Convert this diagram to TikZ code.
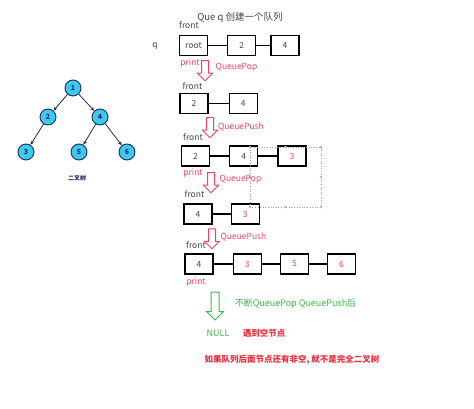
\documentclass[tikz,border=0pt]{standalone}
\usepackage{fontspec}
\setmainfont{Noto Sans CJK SC}
\usepackage{tikz}
\usetikzlibrary{positioning,arrows.meta,shapes.arrows}
\definecolor{pinkred}{HTML}{E8475F}
\definecolor{warnred}{HTML}{E5303C}
\definecolor{leafgreen}{HTML}{3DB54A}
\definecolor{navy}{HTML}{1C2D5A}
\definecolor{skyfill}{HTML}{3CC8F0}
\definecolor{inkgrey}{HTML}{444444}
\definecolor{dotgrey}{HTML}{9A9A9A}
\tikzset{
  qbox/.style={rectangle, draw=black, line width=1.2pt, minimum width=28pt,
               minimum height=20pt, inner sep=0pt, font=\fontsize{8.5}{9}\selectfont,
               text=#1},
  qbox/.default=inkgrey,
  link/.style={draw=black, line width=1.1pt},
  tnode/.style={circle, draw=navy, fill=skyfill, line width=0.9pt,
                minimum size=16pt, inner sep=0pt,
                font=\fontsize{7}{7}\selectfont\bfseries, text=navy},
  tedge/.style={-{Stealth[length=4pt,width=3.5pt]}, line width=0.8pt, draw=navy},
  downar/.style={single arrow, shape border rotate=270, draw=#1, line width=1pt,
                 inner sep=3pt, single arrow head extend=4pt,
                 minimum height=20pt},
  tag/.style={font=\fontsize{8.5}{9}\selectfont, text=#1, inner sep=0pt},
  tag/.default=inkgrey,
  grip/.style={circle, draw=dotgrey, fill=white, line width=0.4pt,
               inner sep=0pt, minimum size=2.4pt},
}

\begin{document}
\begin{tikzpicture}[x=1pt, y=-1pt]
  \useasboundingbox (0,0) rectangle (474,409);

  % tree
  \node[tnode] (t1) at (73,88) {1};
  \node[tnode] (t2) at (48,117) {2};
  \node[tnode] (t4) at (100,117) {4};
  \node[tnode] (t3) at (26,152) {3};
  \node[tnode] (t5) at (79,152) {5};
  \node[tnode] (t6) at (127,152) {6};
  \draw[tedge] (t1) -- (t2);
  \draw[tedge] (t1) -- (t4);
  \draw[tedge] (t2) -- (t3);
  \draw[tedge] (t4) -- (t5);
  \draw[tedge] (t4) -- (t6);
  \node[font=\fontsize{6}{7}\selectfont\bfseries, text=navy] (tcap) at (77,178) {二叉树};

  % queue rows
  \node[tag, font=\fontsize{9.5}{10}\selectfont] (title) at (240,18) {Que q 创建一个队列};
  \node[tag] (q) at (155,46) {q};

  \node[qbox] (r1a) at (193.5,45.5) {root};
  \node[qbox, right=19pt of r1a] (r1b) {2};
  \node[qbox, right=14pt of r1b] (r1c) {4};
  \draw[link] (r1a) -- (r1b);
  \draw[link] (r1b) -- (r1c);

  \node[qbox] (r2a) at (194,103.5) {2};
  \node[qbox, right=20pt of r2a] (r2b) {4};
  \draw[link] (r2a) -- (r2b);

  \node[qbox] (r3a) at (195.5,156) {2};
  \node[qbox, right=19pt of r3a] (r3b) {4};
  \node[qbox=pinkred, right=19pt of r3b] (r3c) {3};
  \draw[link] (r3a) -- (r3b);
  \draw[link] (r3b) -- (r3c);

  \node[qbox] (r4a) at (198,214) {4};
  \node[qbox=pinkred, right=18pt of r4a] (r4b) {3};
  \draw[link] (r4a) -- (r4b);

  \node[qbox] (r5a) at (199,264) {4};
  \node[qbox=pinkred, right=19pt of r5a] (r5b) {3};
  \node[qbox=pinkred, right=18pt of r5b] (r5c) {5};
  \node[qbox=pinkred, right=18pt of r5c] (r5d) {6};
  \draw[link] (r5a) -- (r5b);
  \draw[link] (r5b) -- (r5c);
  \draw[link] (r5c) -- (r5d);

  % selection frame
  \draw[dotgrey, dotted, line width=0.6pt] (250,147) rectangle (321,207);
  \foreach \gx/\gy in {250/147, 285.5/147, 321/147, 321/177, 321/207, 285.5/207, 250/207, 250/177}
    \node[grip] at (\gx,\gy) {};

  % step arrows
  \node[downar=pinkred] (a1) at (205,69) {};
  \node[downar=pinkred] (a2) at (210,126) {};
  \node[downar=pinkred] (a3) at (211,181) {};
  \node[downar=pinkred] (a4) at (212,237) {};
  \node[downar=leafgreen, inner sep=3.5pt, single arrow head extend=4.5pt,
        minimum height=28pt] (a5) at (215,304) {};

  \node[tag] at (189,25) {front};
  \node[tag=pinkred] at (190,63) {print};
  \node[tag=pinkred] at (236.5,67) {QueuePop};
  \node[tag] at (192.5,86) {front};
  \node[tag=pinkred] at (241,127) {QueuePush};
  \node[tag] at (193,137) {front};
  \node[tag=pinkred] at (193,173) {print};
  \node[tag=pinkred] at (240.5,179) {QueuePop};
  \node[tag] at (194.5,194) {front};
  \node[tag=pinkred] at (243.5,237) {QueuePush};
  \node[tag] at (196,245) {front};
  \node[tag=pinkred] at (196,282) {print};

  \node[tag=leafgreen, font=\fontsize{9}{10}\selectfont] at (295.5,304) {不断QueuePop QueuePush后};
  \node[tag=leafgreen, font=\fontsize{9}{10}\selectfont] at (218,333) {NULL};
  \node[tag=warnred, font=\fontsize{8.5}{9}\selectfont\bfseries] at (264,333) {遇到空节点};
  \node[tag=warnred, font=\fontsize{8.5}{9}\selectfont\bfseries] at (292,360) {如果队列后面节点还有非空, 就不是完全二叉树};
\end{tikzpicture}
\end{document}
